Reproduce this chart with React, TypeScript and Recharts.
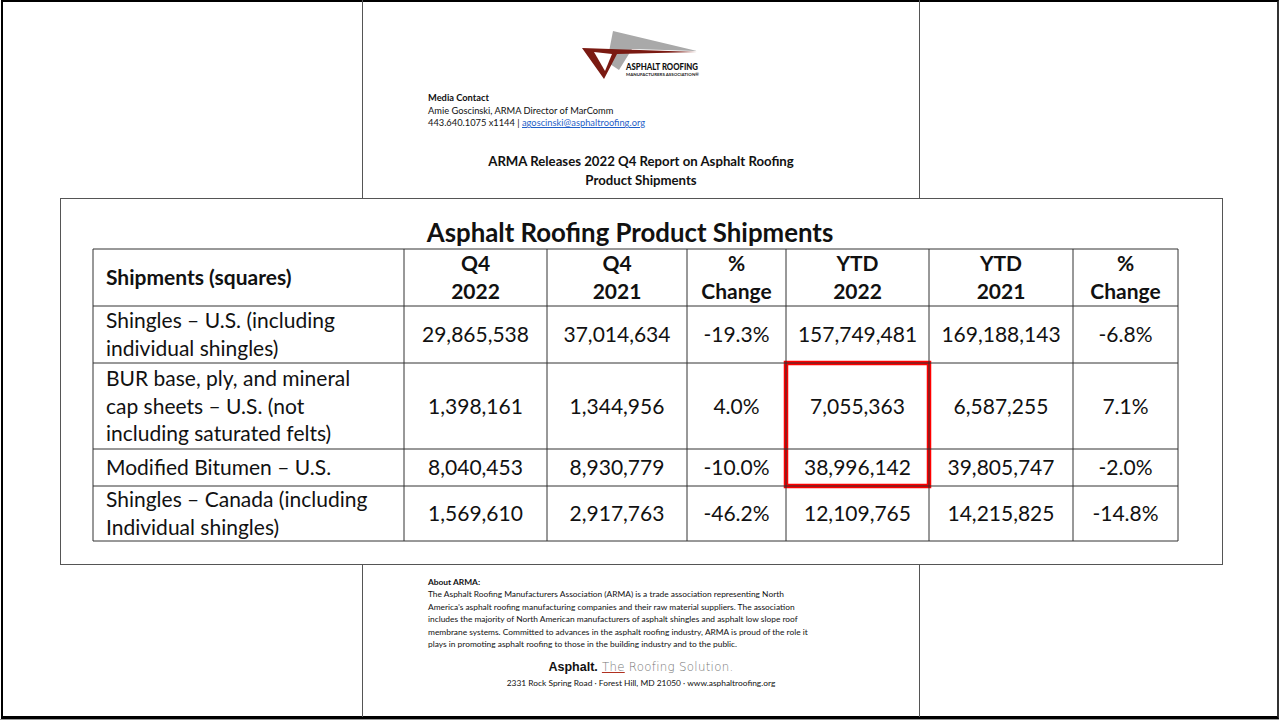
import React from "react";
import { ScatterChart, Scatter, XAxis, YAxis, ReferenceLine, ReferenceArea } from "recharts";

// ---------- data ----------
const headers = ["Shipments (squares)", "Q4\n2022", "Q4\n2021", "%\nChange", "YTD\n2022", "YTD\n2021", "%\nChange"];
const products = [
  "Shingles – U.S. (including\nindividual shingles)",
  "BUR base, ply, and mineral\ncap sheets – U.S. (not\nincluding saturated felts)",
  "Modified Bitumen – U.S.",
  "Shingles – Canada (including\nIndividual shingles)",
];
const q4_2022 = [29865538, 1398161, 8040453, 1569610];
const q4_2021 = [37014634, 1344956, 8930779, 2917763];
const q4Change = [-19.3, 4.0, -10.0, -46.2];
const ytd2022 = [157749481, 7055363, 38996142, 12109765];
const ytd2021 = [169188143, 6587255, 39805747, 14215825];
const ytdChange = [-6.8, 7.1, -2.0, -14.8];
const highlighted = { column: 4, fromRow: 2, toRow: 3 }; // YTD 2022, BUR + Modified Bitumen

const tableTitle = "Asphalt Roofing Product Shipments";
const pressTitle = ["ARMA Releases 2022 Q4 Report on Asphalt Roofing", "Product Shipments"];
const aboutLines = [
  "The Asphalt Roofing Manufacturers Association (ARMA) is a trade association representing North",
  "America’s asphalt roofing manufacturing companies and their raw material suppliers. The association",
  "includes the majority of North American manufacturers of asphalt shingles and asphalt low slope roof",
  "membrane systems. Committed to advances in the asphalt roofing industry, ARMA is proud of the role it",
  "plays in promoting asphalt roofing to those in the building industry and to the public.",
];

// ---------- layout (style only) ----------
const COL_W = [311, 143, 140, 99, 143, 144, 105];
const ROW_H = [57, 57, 86, 37, 55];
const cum = (a: number[]) => a.reduce((acc: number[], v) => [...acc, acc[acc.length - 1] + v], [0]);
const COL_E = cum(COL_W);
const ROW_E = cum(ROW_H);
const TOTAL_W = COL_E[COL_E.length - 1];
const TOTAL_H = ROW_E[ROW_E.length - 1];
const PAD = 13;
const FONT = "Lato, 'Open Sans', sans-serif";
const LINE = "#333";

const fmtN = (v: number) => v.toLocaleString("en-US");
const fmtP = (v: number) => v.toFixed(1) + "%";

type Cell = { x: number; y: number; label: string; bold: boolean; left: boolean };
const cells: Cell[] = [];
const colCenter = (c: number) => (c === 0 ? COL_E[0] + PAD : (COL_E[c] + COL_E[c + 1]) / 2);
const rowCenter = (r: number) => (ROW_E[r] + ROW_E[r + 1]) / 2;
headers.forEach((h, c) => cells.push({ x: colCenter(c), y: rowCenter(0), label: h, bold: true, left: c === 0 }));
products.forEach((p, i) => {
  const vals = [p, fmtN(q4_2022[i]), fmtN(q4_2021[i]), fmtP(q4Change[i]), fmtN(ytd2022[i]), fmtN(ytd2021[i]), fmtP(ytdChange[i])];
  vals.forEach((v, c) => cells.push({ x: colCenter(c), y: rowCenter(i + 1), label: v, bold: false, left: c === 0 }));
});

const CellText = (props: any) => {
  const { cx, cy, payload } = props;
  if (cx == null || cy == null) return null;
  const lines = String(payload.label).split("\n");
  const fs = 21;
  const lh = 27.5;
  const y0 = cy - ((lines.length - 1) * lh) / 2;
  return (
    <text
      textAnchor={payload.left ? "start" : "middle"}
      fontFamily={FONT}
      fontSize={fs}
      fontWeight={payload.bold ? 700 : 400}
      fill="#111"
    >
      {lines.map((l, i) => (
        <tspan key={i} x={cx} y={y0 + i * lh + fs * 0.36}>
          {l}
        </tspan>
      ))}
    </text>
  );
};

const abs = (s: React.CSSProperties): React.CSSProperties => ({ position: "absolute", ...s });

export default function App() {
  return (
    <div style={abs({ left: 0, top: 0, width: 1279, height: 721, background: "#fff", overflow: "hidden", fontFamily: FONT, color: "#111" })}>
      {/* outer frame */}
      <div style={abs({ left: 1, top: 0, width: 1274, height: 714, borderTop: "2px solid #000", borderLeft: "2px solid #000", borderBottom: "3px solid #000", borderRight: "2px solid #333" })} />
      <div style={abs({ left: 0, top: 719, width: 1279, height: 1, background: "#999" })} />
      {/* document page edges */}
      <div style={abs({ left: 362, top: 0, width: 1, height: 717, background: "#555" })} />
      <div style={abs({ left: 919, top: 0, width: 1, height: 717, background: "#555" })} />

      {/* logo */}
      <svg style={abs({ left: 0, top: 0 })} width={1279} height={200}>
        <polygon points="613,31 697,51 632,49 619,70 607,62" fill="#a9a9a9" />
        <polygon points="582,48 697,52 617,54 604,79" fill="#7a1a12" />
        <polygon points="594,52 612,54 605,71" fill="#fff" />
        <text x={626} y={69.5} fontFamily={FONT} fontWeight={900} fontSize={9} fill="#111" textLength={72} lengthAdjust="spacingAndGlyphs">ASPHALT ROOFING</text>
        <text x={626} y={75.5} fontFamily={FONT} fontWeight={700} fontSize={4.3} fill="#222" textLength={73} lengthAdjust="spacingAndGlyphs">MANUFACTURERS ASSOCIATION®</text>
      </svg>

      {/* media contact */}
      <div style={abs({ left: 428, top: 92, fontSize: 9.3, lineHeight: "12.5px", whiteSpace: "nowrap" })}>
        <div style={{ fontWeight: 700 }}>Media Contact</div>
        <div>Amie Goscinski, ARMA Director of MarComm</div>
        <div>
          443.640.1075 x1144 | <span style={{ color: "#1f5fc8", textDecoration: "underline" }}>agoscinski@asphaltroofing.org</span>
        </div>
      </div>
      <div style={abs({ left: 362, top: 152, width: 558, textAlign: "center", fontSize: 13.2, fontWeight: 700, lineHeight: "19px" })}>
        {pressTitle.map((t, i) => (
          <div key={i}>{t}</div>
        ))}
      </div>

      {/* table panel */}
      <div style={abs({ left: 60, top: 198, width: 1161, height: 365, border: "1px solid #555", background: "#fff" })} />
      <div style={abs({ left: 330, top: 216, width: 600, textAlign: "center", fontSize: 25.8, fontWeight: 700, lineHeight: "32px" })}>{tableTitle}</div>

      <div style={abs({ left: 91, top: 247 })}>
        <ScatterChart width={TOTAL_W + 4} height={TOTAL_H + 8} margin={{ top: 2, right: 2, bottom: 6, left: 2 }}>
          <XAxis type="number" dataKey="x" domain={[0, TOTAL_W]} hide />
          <YAxis type="number" dataKey="y" domain={[0, TOTAL_H]} reversed hide />
          {COL_E.map((x, i) => (
            <ReferenceLine key={"c" + i} x={x} stroke={LINE} strokeWidth={1} ifOverflow="visible" />
          ))}
          {ROW_E.map((y, i) => (
            <ReferenceLine key={"r" + i} y={y} stroke={LINE} strokeWidth={1} ifOverflow="visible" />
          ))}
          <Scatter data={cells} shape={CellText} isAnimationActive={false} />
          <ReferenceArea
            x1={COL_E[highlighted.column]}
            x2={COL_E[highlighted.column + 1]}
            y1={ROW_E[highlighted.fromRow]}
            y2={ROW_E[highlighted.toRow + 1]}
            fill="none"
            fillOpacity={0}
            stroke="#ff0000"
            strokeOpacity={1}
            strokeWidth={4.5}
            ifOverflow="visible"
          />
        </ScatterChart>
      </div>

      {/* about */}
      <div style={abs({ left: 428, top: 576, fontSize: 8.4, lineHeight: "12.4px", whiteSpace: "nowrap" })}>
        <div style={{ fontWeight: 700 }}>About ARMA:</div>
        {aboutLines.map((l, i) => (
          <div key={i}>{l}</div>
        ))}
      </div>
      <div style={abs({ left: 362, top: 657, width: 558, textAlign: "center", whiteSpace: "nowrap", lineHeight: "16px" })}>
        <span style={{ fontWeight: 900, fontSize: 12.5, fontFamily: "'Liberation Sans', Arial, sans-serif" }}>Asphalt.</span>{" "}
        <span style={{ fontSize: 11.8, color: "#777", fontFamily: "'DejaVu Sans', sans-serif", fontWeight: 300, letterSpacing: 0.3 }}>
          <span style={{ textDecoration: "underline", textDecorationColor: "#b03020" }}>The</span> Roofing Solution.
        </span>
      </div>
      <div style={abs({ left: 362, top: 677, width: 558, textAlign: "center", fontSize: 8.4, lineHeight: "12px", whiteSpace: "nowrap" })}>
        2331 Rock Spring Road · Forest Hill, MD 21050 · www.asphaltroofing.org
      </div>
    </div>
  );
}
